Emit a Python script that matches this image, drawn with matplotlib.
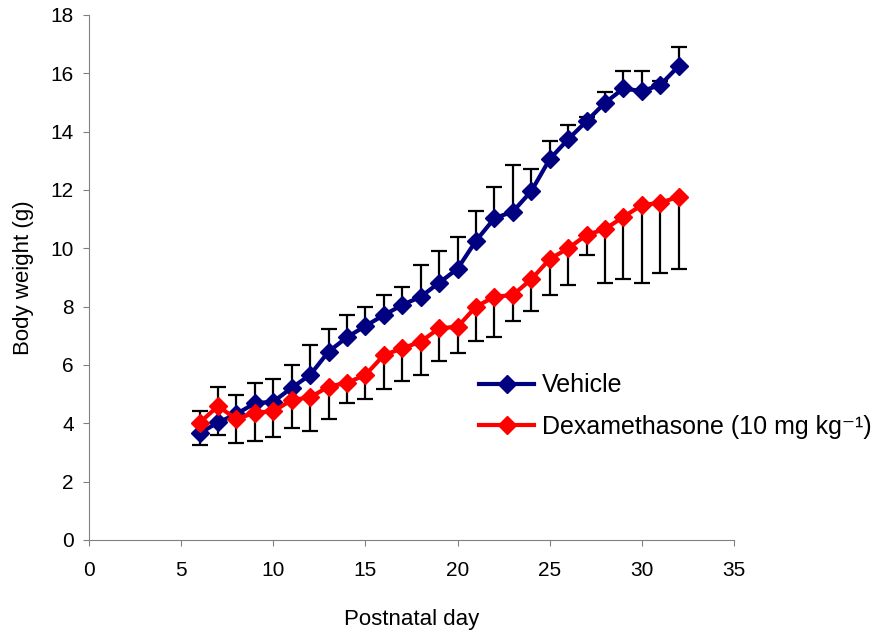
import matplotlib.pyplot as plt

days = list(range(6, 33))

vehicle = [3.66, 4.03, 4.32, 4.69, 4.74, 5.22, 5.66, 6.46, 6.95, 7.34, 7.71, 8.06, 8.34, 8.82,
           9.30, 10.26, 11.03, 11.26, 11.96, 13.06, 13.74, 14.36, 14.99, 15.48, 15.39, 15.60, 16.25]
vehicle_err = [0.76, 1.20, 0.64, 0.69, 0.78, 0.77, 1.04, 0.77, 0.76, 0.66, 0.69, 0.60, 1.08, 1.09,
               1.09, 1.03, 1.06, 1.60, 0.76, 0.62, 0.49, 0.15, 0.38, 0.59, 0.68, 0.12, 0.66]

dexa = [4.02, 4.59, 4.14, 4.37, 4.41, 4.80, 4.89, 5.26, 5.39, 5.66, 6.34, 6.57, 6.80, 7.26,
        7.31, 8.00, 8.34, 8.40, 8.94, 9.63, 10.00, 10.46, 10.66, 11.08, 11.48, 11.56, 11.77]
dexa_err = [0.75, 1.00, 0.83, 0.98, 0.88, 0.97, 1.14, 1.11, 0.68, 0.83, 1.16, 1.12, 1.13, 1.12,
            0.91, 1.17, 1.39, 0.89, 1.09, 1.23, 1.26, 0.69, 1.84, 2.13, 2.68, 2.42, 2.48]

plt.rcParams['font.family'] = ['Liberation Sans', 'DejaVu Sans']

fig = plt.figure(figsize=(8.85, 6.3), dpi=100)
ax = fig.add_axes([0.1006, 0.1429, 0.7288, 0.8333])

zeros = [0] * len(days)
# vehicle bars go up, dexamethasone bars go down
ax.errorbar(days, vehicle, yerr=[zeros, vehicle_err], fmt='none', ecolor='black',
            elinewidth=1.6, capsize=6, capthick=1.6, zorder=1)
ax.errorbar(days, dexa, yerr=[dexa_err, zeros], fmt='none', ecolor='black',
            elinewidth=1.6, capsize=6, capthick=1.6, zorder=1)

ax.plot(days, vehicle, color='#000080', lw=3, marker='D', ms=9, label='Vehicle', zorder=3)
ax.plot(days, dexa, color='#FF0000', lw=3, marker='D', ms=9,
        label='Dexamethasone (10 mg kg\u207b\u00b9)', zorder=4)

ax.set_xlim(0, 35)
ax.set_ylim(0, 18)
ax.set_xticks(range(0, 36, 5))
ax.set_yticks(range(0, 19, 2))
ax.tick_params(direction='out', length=4, labelsize=15, color='#808080')
ax.tick_params(axis='x', pad=11)
ax.tick_params(axis='y', pad=7)
for side in ['top', 'right']:
    ax.spines[side].set_visible(False)
for side in ['left', 'bottom']:
    ax.spines[side].set_color('#808080')

ax.set_xlabel('Postnatal day', fontsize=16, labelpad=21)
ax.set_ylabel('Body weight (g)', fontsize=16, labelpad=12)

ax.legend(loc='upper left', bbox_to_anchor=(0.57, 0.36), frameon=False, fontsize=18,
          handlelength=2.2, handletextpad=0.3, labelspacing=0.7)

fig.savefig('out.png', dpi=100)
